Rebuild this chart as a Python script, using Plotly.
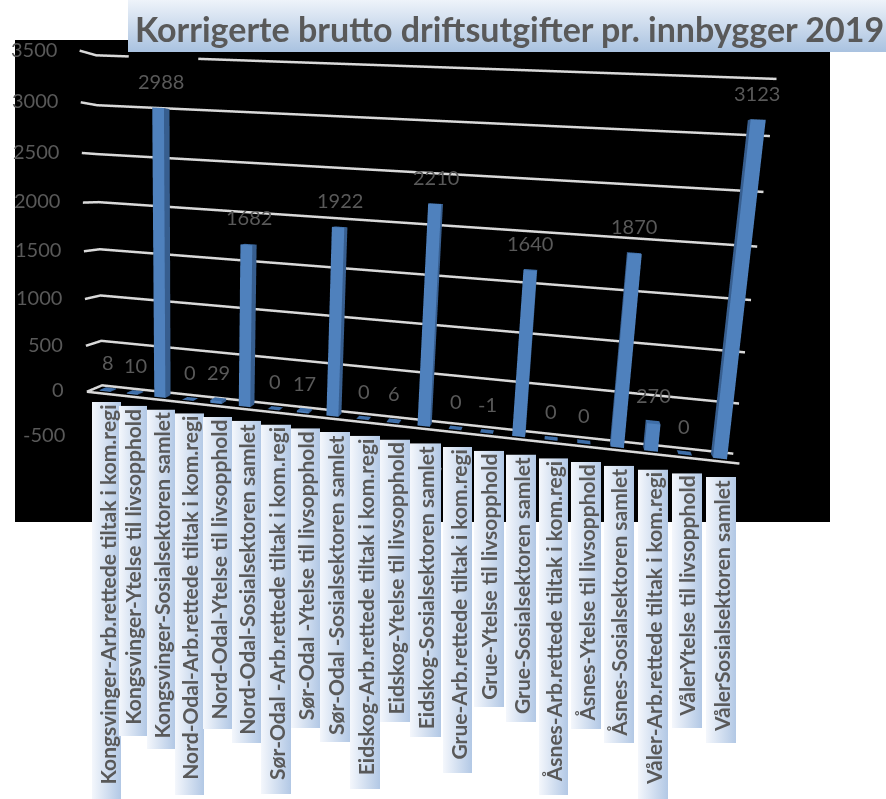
import base64
import plotly.graph_objects as go

TITLE = "Korrigerte brutto driftsutgifter pr. innbygger 2019"
CATEGORIES = [
    "Kongsvinger-Arb.rettede tiltak i kom.regi", "Kongsvinger-Ytelse til livsopphold", "Kongsvinger-Sosialsektoren samlet",
    "Nord-Odal-Arb.rettede tiltak i kom.regi", "Nord-Odal-Ytelse til livsopphold", "Nord-Odal-Sosialsektoren samlet",
    "Sør-Odal -Arb.rettede tiltak i kom.regi", "Sør-Odal -Ytelse til livsopphold", "Sør-Odal -Sosialsektoren samlet",
    "Eidskog-Arb.rettede tiltak i kom.regi", "Eidskog-Ytelse til livsopphold", "Eidskog-Sosialsektoren samlet",
    "Grue-Arb.rettede tiltak i kom.regi", "Grue-Ytelse til livsopphold", "Grue-Sosialsektoren samlet",
    "Åsnes-Arb.rettede tiltak i kom.regi", "Åsnes-Ytelse til livsopphold", "Åsnes-Sosialsektoren samlet",
    "Våler-Arb.rettede tiltak i kom.regi", "VålerYtelse til livsopphold", "VålerSosialsektoren samlet",
]
VALUES = [8, 10, 2988, 0, 29, 1682, 0, 17, 1922, 0, 6, 2210, 0, -1, 1640, 0, 0, 1870, 270, 0, 3123]
TICKS = [-500, 0, 500, 1000, 1500, 2000, 2500, 3000, 3500]

W, H = 886, 799
n = len(VALUES)

# Camera fitted against the reference's wall corners and bar ends
EYE = dict(x=0.2364, y=-0.9304, z=0.1391)
CENTER = dict(x=0.0372, y=0.5431, z=-0.0586)
UP = dict(x=-0.0585, y=0, z=1)
DEPTH_RATIO, HEIGHT_RATIO = 0.0346, 0.6021
PRINCIPAL_X, PRINCIPAL_Y, HALF_H = 475.0, 270.3, 270.3
HALF_W = W - PRINCIPAL_X

# Axis ranges sit slightly beyond the drawn box so lines on its edges are not clipped
X_PAD, Y_PAD, Z_PAD = 0.1, 0.02, 10

# --- gridlines on the left and back walls, plus the floor lines
gx, gy, gz = [], [], []
def seg(xs, ys, zs):
    gx.extend(xs + [None]); gy.extend(ys + [None]); gz.extend(zs + [None])

for t in TICKS[1:]:
    if t == TICKS[-1]:   # passes behind the title band
        seg([0, 0, 1.15], [0, 1, 1], [t, t, t])
        seg([3.55, n], [1, 1], [t, t])
    else:
        seg([0, 0, n], [0, 1, 1], [t, t, t])
seg([0, n], [0, 0], [0, 0])
# the lowest level shows only through the gaps between the label bands and past the last band
for b in range(11, n - 1):
    for y in (0, 1):
        seg([b + 1 - 0.05, b + 1 + 0.05], [y, y], [TICKS[0], TICKS[0]])
seg([n - 0.2, n], [1, 1], [TICKS[0], TICKS[0]])

# --- bars
HALF_BAR, D0, D1 = 0.2, 0.3, 0.7
FRONT, SIDE, TOP = "#4F81BD", "#375E8F", "#3E6EA8"
vx, vy, vz, fi, fj, fk, fc = [], [], [], [], [], [], []
for b, v in enumerate(VALUES):
    o = len(vx)
    c = b + 0.5
    for z in (0, v):
        for x, y in ((c - HALF_BAR, D0), (c + HALF_BAR, D0), (c + HALF_BAR, D1), (c - HALF_BAR, D1)):
            vx.append(x); vy.append(y); vz.append(z)
    for q, col in (((0, 1, 5, 4), FRONT), ((1, 2, 6, 5), SIDE), ((3, 0, 4, 7), SIDE), ((4, 5, 6, 7), TOP), ((2, 3, 7, 6), SIDE)):
        for tri in ((q[0], q[1], q[2]), (q[0], q[2], q[3])):
            fi.append(o + tri[0]); fj.append(o + tri[1]); fk.append(o + tri[2]); fc.append(col)

GRAY = "#595959"
scene_ann = []
for t in TICKS:
    scene_ann.append(dict(x=0, y=0, z=t, text=str(t), showarrow=False, xanchor="right", xshift=-21, yshift=2,
                          font=dict(family="Lato", size=20, color=GRAY)))
for b, v in enumerate(VALUES):
    scene_ann.append(dict(x=b + 0.5, y=0.5, z=v, text=str(v), showarrow=False, yanchor="bottom", yshift=13,
                          font=dict(family="Lato", size=20, color=GRAY)))

fig = go.Figure()
fig.add_trace(go.Scatter3d(x=gx, y=gy, z=gz, mode="lines", line=dict(color="#D9D9D9", width=5), hoverinfo="skip"))
fig.add_trace(go.Mesh3d(x=vx, y=vy, z=vz, i=fi, j=fj, k=fk, facecolor=fc, flatshading=True,
                        lighting=dict(ambient=1, diffuse=0, specular=0, fresnel=0, roughness=1), hoverinfo="skip"))


def grad(x2, y2, a, b):
    s = (f'<svg xmlns="http://www.w3.org/2000/svg" width="100" height="100" viewBox="0 0 100 100" preserveAspectRatio="none">'
         f'<defs><linearGradient id="g" x1="0" y1="0" x2="{x2}" y2="{y2}"><stop offset="0" stop-color="{a}"/>'
         f'<stop offset="1" stop-color="{b}"/></linearGradient></defs><rect width="100" height="100" fill="url(#g)"/></svg>')
    return "data:image/svg+xml;base64," + base64.b64encode(s.encode()).decode()


BAND_L = [92, 119, 147, 175, 203, 232, 261, 291, 320, 350, 380, 410, 443, 474, 506, 539, 571, 604, 638, 672, 706]
BAND_R = [121, 147, 175, 204, 232, 261, 291, 320, 350, 380, 410, 441, 472, 504, 536, 568, 601, 634, 668, 702, 736]
BAND_B = [812, 736, 749, 795, 729, 743, 794, 728, 742, 789, 722, 737, 773, 707, 722, 795, 729, 743, 805, 728, 743]
BAND_T = [402 + 3.75 * i for i in range(n)]

images = [dict(source=grad(0, 1, "#EEF3FA", "#A9C2E0"), xref="paper", yref="paper", x=128 / W, y=1,
               sizex=(W - 128) / W, sizey=52 / H, sizing="stretch", layer="above", xanchor="left", yanchor="top")]
annotations = [dict(text=f"<b>{TITLE}</b>", xref="paper", yref="paper", x=509 / W, y=1 - 28 / H, yanchor="middle",
                    showarrow=False, font=dict(family="Lato", size=34, color=GRAY))]
for i, c in enumerate(CATEGORIES):
    images.append(dict(source=grad(1, 0, "#F4F7FC", "#B2C8E5"), xref="paper", yref="paper", x=BAND_L[i] / W, y=1 - BAND_T[i] / H,
                       sizex=(BAND_R[i] - BAND_L[i]) / W, sizey=(BAND_B[i] - BAND_T[i]) / H, sizing="stretch",
                       layer="above", xanchor="left", yanchor="top"))
    annotations.append(dict(text=f"<b>{c}</b>", xref="paper", yref="paper", x=(BAND_L[i] + BAND_R[i]) / 2 / W,
                            y=1 - (BAND_T[i] + 1) / H, yanchor="top", xanchor="center", textangle=-90, showarrow=False,
                            font=dict(family="Lato", size=21, color=GRAY)))

ax = dict(visible=False, autorange=False)
fig.update_layout(
    width=W, height=H, margin=dict(l=0, r=0, t=0, b=0), paper_bgcolor="white", showlegend=False,
    annotations=annotations, images=images,
    shapes=[dict(type="rect", xref="paper", yref="paper", x0=15 / W, x1=830 / W, y0=1 - 522 / H, y1=1 - 40 / H,
                 fillcolor="black", line_width=0, layer="below")],
    scene=dict(
        domain=dict(x=[(PRINCIPAL_X - HALF_W) / W, 1], y=[1 - (PRINCIPAL_Y + HALF_H) / H, 1]),
        bgcolor="rgba(0,0,0,0)", dragmode="orbit",
        xaxis=dict(ax, range=[-X_PAD, n + X_PAD]),
        yaxis=dict(ax, range=[-Y_PAD, 1 + Y_PAD]),
        zaxis=dict(ax, range=[TICKS[0] - Z_PAD, TICKS[-1] + Z_PAD]),
        aspectmode="manual",
        aspectratio=dict(x=(n + 2 * X_PAD) / n, y=DEPTH_RATIO * (1 + 2 * Y_PAD),
                         z=HEIGHT_RATIO * (TICKS[-1] - TICKS[0] + 2 * Z_PAD) / (TICKS[-1] - TICKS[0])),
        camera=dict(eye=EYE, center=CENTER, up=UP, projection=dict(type="perspective")),
        annotations=scene_ann,
    ),
)
fig.write_html("out.html", post_script="document.body.style.margin='0';", config=dict(displayModeBar=False))
